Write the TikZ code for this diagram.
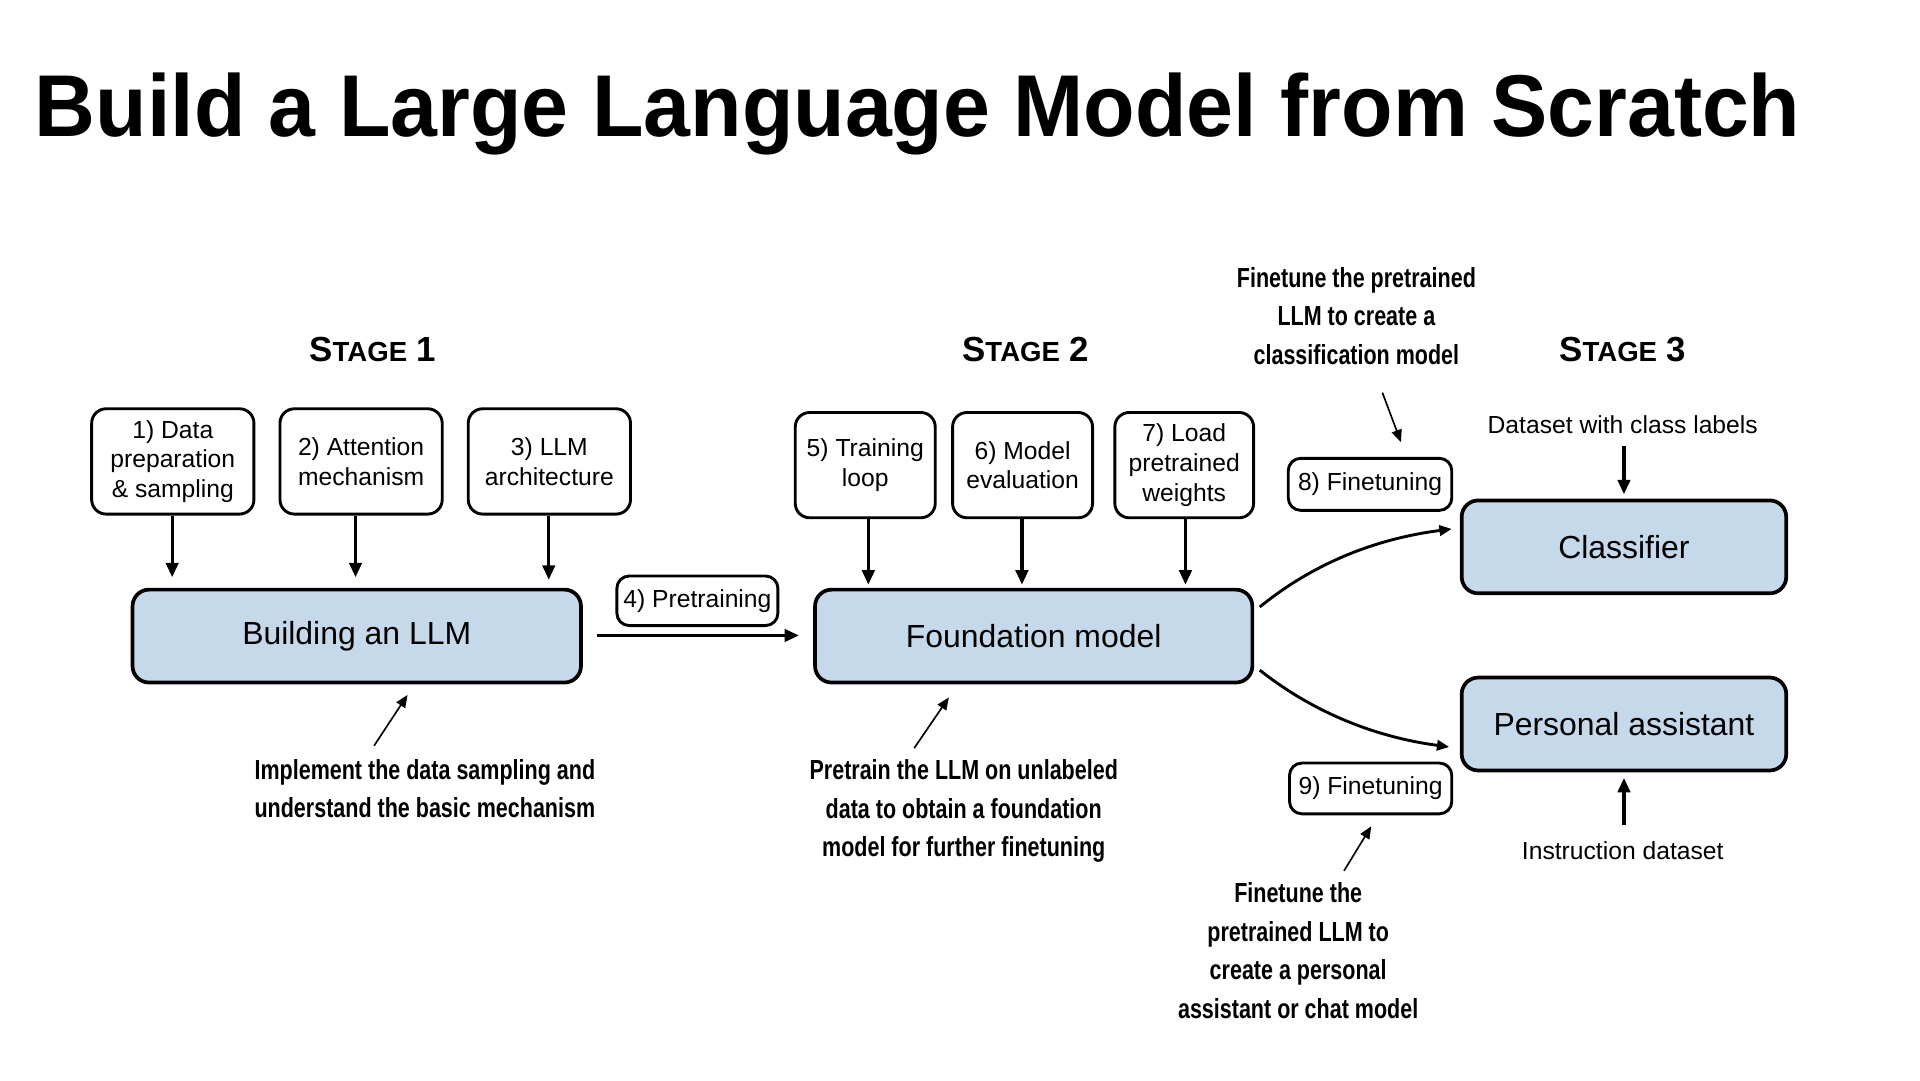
\documentclass[tikz,border=0pt]{standalone}
\usepackage{fontspec}
\setmainfont{Liberation Sans}
\newfontfamily\annfont[FakeStretch=0.78]{Liberation Sans}
\newfontfamily\titlefont[FakeStretch=0.96]{Liberation Sans}
\usetikzlibrary{arrows.meta}
\begin{document}
\begin{tikzpicture}[x=0.03cm,y=-0.03cm,
  sbox/.style={draw,line width=0.07cm,rounded corners=0.35cm,fill=white,align=center,inner sep=0,font=\fontsize{17}{20.5}\selectfont},
  bbox/.style={draw,line width=0.09cm,rounded corners=0.4cm,fill=blue1,align=center,inner sep=0,font=\fontsize{22}{26}\selectfont},
  ann/.style={align=center,font=\annfont\bfseries\fontsize{19}{26.5}\selectfont},
  stg/.style={font=\bfseries\fontsize{24}{28}\selectfont},
  plain/.style={font=\fontsize{17}{20}\selectfont},
  arr/.style={-{Triangle[length=0.35cm,width=0.3cm]},line width=0.08cm},
  tarr/.style={-{Triangle[length=0.3cm,width=0.25cm]},line width=0.04cm}]
\definecolor{blue1}{HTML}{C5D9EA}
\useasboundingbox (0,0) rectangle (1550,872);
\node[anchor=west,font=\titlefont\bfseries\fontsize{60.5}{68}\selectfont] (title) at (24,92) {Build a Large Language Model from Scratch};
\newcommand\stagetxt[1]{S{\fontsize{19}{22}\selectfont TAGE} #1}
\node[stg] (s1) at (301,282) {\stagetxt{1}};
\node[stg] (s2) at (828,282) {\stagetxt{2}};
\node[stg] (s3) at (1310,282) {\stagetxt{3}};
% small boxes
\node[sbox,minimum width=3.93cm,minimum height=2.55cm] (b1) at (139.5,372.5) {1) Data\\preparation\\\& sampling};
\node[sbox,minimum width=3.93cm,minimum height=2.55cm] (b2) at (291.5,372.5) {2) Attention\\mechanism};
\node[sbox,minimum width=3.93cm,minimum height=2.55cm] (b3) at (443.5,372.5) {3) LLM\\architecture};
\node[sbox,minimum width=3.39cm,minimum height=2.55cm] (b5) at (698.5,375.5) {5) Training\\loop};
\node[sbox,minimum width=3.39cm,minimum height=2.55cm] (b6) at (825.5,375.5) {6) Model\\evaluation};
\node[sbox,minimum width=3.36cm,minimum height=2.55cm] (b7) at (956,375.5) {7) Load\\pretrained\\weights};
% big boxes
\node[bbox,minimum width=10.86cm,minimum height=2.25cm] (llm) at (288,513.5) {Building an LLM};
\node[bbox,minimum width=10.59cm,minimum height=2.25cm] (fm) at (834.5,513.5) {Foundation model};
\node[bbox,minimum width=7.86cm,minimum height=2.25cm] (cl) at (1311,441.5) {Classifier};
\node[bbox,minimum width=7.86cm,minimum height=2.25cm] (pa) at (1311,584.5) {Personal assistant};
% arrows into boxes
\coordinate (l1) at (139,466); \coordinate (l2) at (287,466); \coordinate (l3) at (443,468);
\draw[arr] (b1.south -| l1) -- (l1);
\draw[arr] (b2.south -| l2) -- (l2);
\draw[arr] (b3.south -| l3) -- (l3);
\coordinate (f5) at (701,472); \coordinate (f6) at (825,472); \coordinate (f7) at (957,472);
\draw[arr] (b5.south -| f5) -- (f5);
\draw[arr] (b6.south -| f6) -- (f6);
\draw[arr] (b7.south -| f7) -- (f7);
% pretraining
\node[sbox,minimum width=3.9cm,minimum height=1.2cm,rounded corners=0.3cm] (p4) at (563,485) {4) Pretraining};
\coordinate (pa1) at (482,513); \coordinate (pa2) at (645,513);
\draw[arr] (pa1) -- (pa2);
% finetuning curves
\coordinate (c1s) at (1017,490); \coordinate (c1e) at (1172,427);
\coordinate (c2s) at (1017,541); \coordinate (c2e) at (1170,603);
\draw[tarr,line width=0.07cm] (c1s) .. controls (1060,455) and (1110,435) .. (c1e);
\draw[tarr,line width=0.07cm] (c2s) .. controls (1060,575) and (1110,595) .. (c2e);
\node[sbox,minimum width=3.96cm,minimum height=1.26cm,rounded corners=0.3cm] (f8) at (1106,391) {8) Finetuning};
\node[sbox,minimum width=3.93cm,minimum height=1.23cm,rounded corners=0.3cm] (f9) at (1106.5,636.5) {9) Finetuning};
% annotations
\node[ann] (a8) at (1095,255) {Finetune the pretrained\\LLM to create a\\classification model};
\coordinate (a8s) at (1116,317); \coordinate (a8e) at (1131,357);
\draw[tarr] (a8s) -- (a8e);
\node[plain] (dl) at (1310,343) {Dataset with class labels};
\coordinate (dle) at (1311,399);
\draw[arr] (dl.south -| dle) ++(0,6) -- (dle);
\node[plain] (id) at (1310,687) {Instruction dataset};
\coordinate (ide) at (1311,628);
\draw[arr] (1311,666) -- (ide);
\node[ann] (a1) at (343,636.5) {Implement the data sampling and\\understand the basic mechanism};
\coordinate (a1s) at (302,602); \coordinate (a1e) at (329,561);
\draw[tarr] (a1s) -- (a1e);
\node[ann] (a2) at (778,655) {Pretrain the LLM on unlabeled\\data to obtain a foundation\\model for further finetuning};
\coordinate (a2s) at (738,604); \coordinate (a2e) at (766,563);
\draw[tarr] (a2s) -- (a2e);
\node[ann] (a3) at (1048,767.5) {Finetune the\\pretrained LLM to\\create a personal\\assistant or chat model};
\coordinate (a3s) at (1085,703); \coordinate (a3e) at (1107,667);
\draw[tarr] (a3s) -- (a3e);
\end{tikzpicture}
\end{document}
